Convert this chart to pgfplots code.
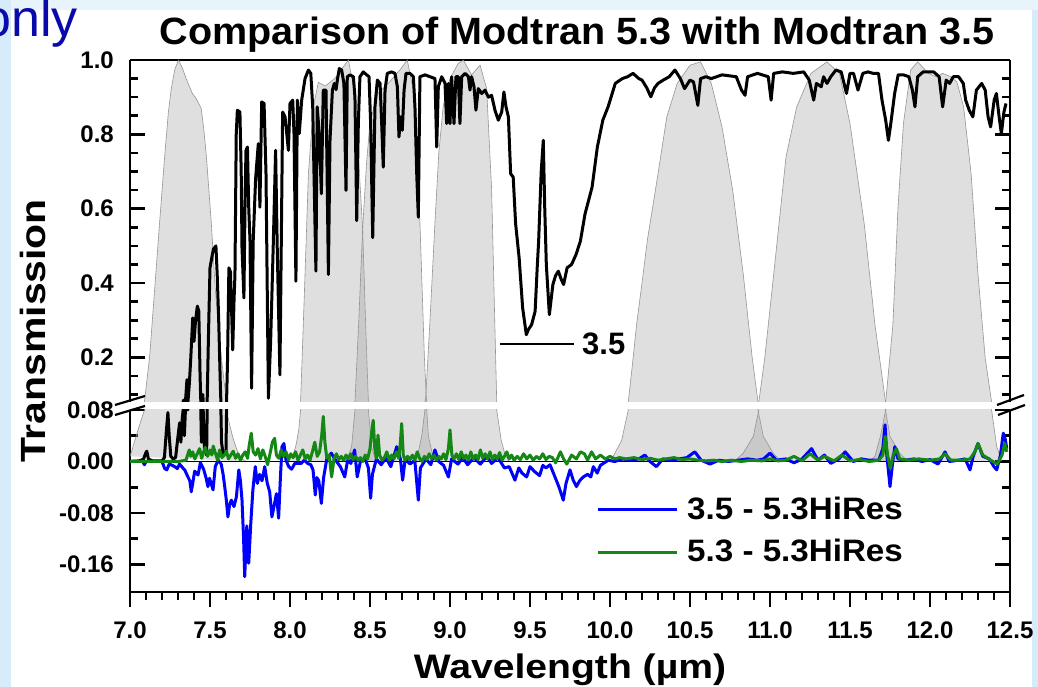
\documentclass[border=0pt]{standalone}
\usepackage{pgfplots}
\pgfplotsset{compat=1.18}
\usepackage{pgfplotstable}
\usepackage{graphicx}
\usepackage{fontspec}
\setmainfont{Liberation Sans}
\newcommand\fs[1]{\fontsize{#1}{#1}\selectfont}
\definecolor{bgblue}{RGB}{214,236,250}
\definecolor{bgtop}{RGB}{232,244,252}
\definecolor{onlyblue}{RGB}{10,10,170}
\definecolor{mygreen}{RGB}{20,135,20}

\pgfplotstableread{
x y
7.000 0.008
7.015 0.020
7.045 0.045
7.090 0.080
7.123 0.203
7.154 0.383
7.185 0.563
7.217 0.743
7.240 0.860
7.258 0.923
7.280 0.975
7.304 1.000
7.330 0.975
7.360 0.940
7.390 0.910
7.414 0.896
7.445 0.870
7.462 0.810
7.477 0.743
7.508 0.563
7.533 0.383
7.570 0.203
7.603 0.080
7.620 0.060
7.644 0.036
7.675 0.013
7.700 0.004
7.730 0.000
}\filterA
\pgfplotstableread{
x y
7.990 0.000
8.020 0.010
8.040 0.028
8.055 0.050
8.066 0.080
8.080 0.250
8.094 0.424
8.115 0.694
8.146 0.874
8.177 0.940
8.220 0.930
8.280 0.950
8.330 0.980
8.365 1.000
8.396 0.930
8.425 0.760
8.454 0.546
8.472 0.300
8.490 0.080
8.510 0.023
8.530 0.006
8.550 0.000
}\filterB
\pgfplotstableread{
x y
8.320 0.000
8.360 0.006
8.385 0.023
8.406 0.080
8.430 0.300
8.454 0.546
8.478 0.720
8.500 0.833
8.550 0.910
8.620 0.940
8.690 0.975
8.733 1.000
8.770 0.920
8.790 0.750
8.812 0.563
8.840 0.200
8.852 0.090
8.865 0.039
8.890 0.012
8.920 0.000
}\filterC
\pgfplotstableread{
x y
8.780 0.000
8.800 0.012
8.823 0.039
8.848 0.090
8.875 0.300
8.906 0.563
8.930 0.750
8.958 0.878
9.000 0.950
9.050 0.990
9.083 1.000
9.135 0.960
9.188 0.986
9.229 0.923
9.260 0.653
9.280 0.293
9.292 0.080
9.320 0.033
9.345 0.010
9.370 0.000
}\filterD
\pgfplotstableread{
x y
9.990 0.000
10.020 0.008
10.073 0.033
10.114 0.080
10.140 0.180
10.166 0.288
10.200 0.400
10.233 0.514
10.300 0.694
10.355 0.847
10.420 0.937
10.500 0.986
10.566 0.995
10.633 0.937
10.700 0.820
10.767 0.649
10.833 0.423
10.889 0.198
10.925 0.080
10.958 0.039
11.020 0.013
11.060 0.003
11.100 0.000
}\filterE
\pgfplotstableread{
x y
10.760 0.000
10.790 0.003
10.833 0.013
10.896 0.039
10.930 0.080
10.967 0.198
11.034 0.468
11.100 0.739
11.167 0.874
11.256 0.964
11.356 0.995
11.434 0.964
11.500 0.829
11.589 0.559
11.656 0.288
11.700 0.150
11.722 0.080
11.750 0.039
11.810 0.013
11.850 0.003
11.880 0.000
}\filterF
\pgfplotstableread{
x y
11.620 0.000
11.656 0.008
11.690 0.039
11.723 0.080
11.768 0.288
11.800 0.604
11.834 0.829
11.879 0.973
11.923 0.995
11.990 0.964
12.040 0.955
12.080 0.964
12.130 0.955
12.168 0.941
12.210 0.874
12.257 0.694
12.300 0.423
12.345 0.198
12.385 0.080
12.417 0.023
12.450 0.000
}\filterG

\pgfplotstableread{
x y
7.000 0.000
7.060 0.001
7.085 0.004
7.098 0.013
7.105 0.016
7.115 0.004
7.140 0.001
7.200 0.001
7.215 0.006
7.228 0.050
7.237 0.076
7.245 0.040
7.255 0.008
7.270 0.004
7.285 0.006
7.298 0.035
7.310 0.060
7.318 0.030
7.326 0.065
7.334 0.085
7.340 0.040
7.348 0.090
7.356 0.140
7.362 0.080
7.371 0.130
7.380 0.200
7.392 0.306
7.400 0.243
7.410 0.300
7.421 0.338
7.430 0.324
7.438 0.150
7.446 0.030
7.455 0.100
7.465 0.020
7.479 0.010
7.490 0.250
7.500 0.441
7.512 0.470
7.521 0.491
7.537 0.500
7.545 0.423
7.554 0.306
7.565 0.120
7.572 0.030
7.583 0.010
7.600 0.015
7.610 0.200
7.618 0.441
7.628 0.430
7.642 0.220
7.650 0.350
7.656 0.423
7.664 0.800
7.671 0.865
7.687 0.860
7.695 0.700
7.700 0.495
7.712 0.360
7.720 0.650
7.725 0.757
7.734 0.766
7.742 0.604
7.750 0.513
7.760 0.117
7.770 0.513
7.785 0.680
7.792 0.720
7.802 0.775
7.812 0.604
7.823 0.887
7.838 0.883
7.850 0.694
7.865 0.090
7.879 0.243
7.896 0.513
7.910 0.757
7.920 0.500
7.937 0.153
7.954 0.860
7.969 0.847
7.990 0.757
8.000 0.883
8.017 0.892
8.025 0.802
8.037 0.405
8.046 0.892
8.058 0.802
8.073 0.892
8.094 0.950
8.115 0.973
8.130 0.964
8.142 0.874
8.150 0.694
8.162 0.432
8.170 0.874
8.183 0.802
8.196 0.640
8.208 0.919
8.225 0.919
8.240 0.423
8.250 0.784
8.265 0.919
8.277 0.937
8.288 0.920
8.296 0.946
8.308 0.977
8.323 0.973
8.337 0.937
8.350 0.649
8.358 0.955
8.375 0.960
8.396 0.955
8.406 0.900
8.417 0.568
8.427 0.829
8.437 0.955
8.458 0.968
8.479 0.960
8.494 0.955
8.504 0.829
8.517 0.522
8.531 0.874
8.546 0.946
8.563 0.937
8.573 0.829
8.583 0.712
8.594 0.919
8.608 0.964
8.635 0.968
8.656 0.964
8.671 0.928
8.681 0.793
8.692 0.847
8.702 0.811
8.713 0.919
8.725 0.964
8.750 0.964
8.771 0.955
8.781 0.874
8.792 0.694
8.802 0.577
8.812 0.955
8.844 0.960
8.875 0.955
8.906 0.950
8.917 0.766
8.927 0.928
8.948 0.955
8.969 0.937
8.979 0.829
8.990 0.937
9.000 0.829
9.010 0.955
9.025 0.829
9.037 0.955
9.052 0.955
9.062 0.829
9.073 0.955
9.094 0.964
9.115 0.955
9.125 0.919
9.135 0.955
9.150 0.928
9.162 0.865
9.177 0.923
9.198 0.910
9.219 0.919
9.240 0.900
9.260 0.905
9.281 0.865
9.302 0.838
9.323 0.860
9.337 0.914
9.350 0.874
9.365 0.847
9.379 0.694
9.395 0.685
9.410 0.560
9.432 0.468
9.454 0.333
9.477 0.261
9.490 0.275
9.510 0.288
9.532 0.324
9.545 0.441
9.554 0.513
9.570 0.700
9.583 0.784
9.592 0.604
9.602 0.450
9.621 0.315
9.643 0.396
9.660 0.420
9.677 0.432
9.695 0.410
9.710 0.396
9.732 0.441
9.760 0.450
9.788 0.477
9.815 0.513
9.844 0.586
9.866 0.622
9.888 0.658
9.921 0.766
9.955 0.838
9.988 0.874
10.033 0.937
10.077 0.950
10.110 0.955
10.144 0.964
10.180 0.950
10.200 0.946
10.230 0.925
10.255 0.901
10.278 0.925
10.300 0.937
10.333 0.946
10.370 0.955
10.406 0.973
10.440 0.950
10.466 0.923
10.500 0.946
10.522 0.941
10.549 0.878
10.566 0.950
10.600 0.955
10.633 0.950
10.700 0.960
10.789 0.955
10.822 0.919
10.844 0.905
10.860 0.955
10.922 0.964
10.989 0.955
11.007 0.892
11.023 0.964
11.078 0.968
11.145 0.964
11.211 0.968
11.245 0.946
11.273 0.892
11.290 0.937
11.320 0.928
11.335 0.955
11.356 0.937
11.380 0.955
11.412 0.973
11.445 0.968
11.478 0.910
11.500 0.964
11.522 0.964
11.550 0.919
11.580 0.964
11.612 0.968
11.645 0.964
11.678 0.964
11.700 0.892
11.723 0.838
11.740 0.784
11.755 0.829
11.779 0.910
11.801 0.960
11.834 0.960
11.868 0.955
11.890 0.919
11.906 0.874
11.923 0.955
11.957 0.968
12.023 0.968
12.057 0.955
12.079 0.874
12.101 0.946
12.123 0.937
12.145 0.955
12.179 0.955
12.208 0.937
12.223 0.892
12.245 0.865
12.268 0.847
12.290 0.919
12.323 0.937
12.345 0.919
12.363 0.847
12.379 0.820
12.401 0.892
12.415 0.910
12.432 0.847
12.446 0.802
12.462 0.860
12.475 0.883
}\blackdata

\pgfplotstableread{
x y
7.000 0.000
7.080 0.000
7.090 -0.005
7.100 0.000
7.200 0.000
7.217 -0.011
7.230 -0.013
7.245 -0.004
7.265 -0.006
7.279 -0.008
7.296 -0.011
7.310 -0.004
7.330 -0.010
7.342 -0.013
7.362 -0.024
7.374 -0.030
7.383 -0.047
7.392 -0.034
7.404 -0.015
7.415 -0.018
7.425 -0.021
7.440 -0.002
7.460 -0.012
7.475 -0.025
7.487 -0.039
7.497 -0.026
7.508 -0.035
7.519 -0.044
7.533 -0.008
7.550 0.002
7.570 -0.004
7.582 -0.020
7.592 -0.039
7.602 -0.060
7.612 -0.086
7.622 -0.068
7.633 -0.060
7.650 -0.070
7.665 -0.055
7.680 -0.013
7.690 -0.030
7.700 -0.060
7.710 -0.120
7.717 -0.179
7.725 -0.130
7.730 -0.100
7.742 -0.158
7.750 -0.120
7.754 -0.100
7.768 -0.044
7.783 -0.008
7.796 -0.034
7.810 -0.020
7.825 -0.030
7.842 -0.008
7.858 -0.034
7.873 -0.047
7.887 -0.086
7.900 -0.070
7.915 -0.050
7.929 -0.088
7.940 -0.025
7.950 0.023
7.962 0.028
7.975 0.002
7.992 -0.008
8.010 -0.012
8.030 -0.003
8.050 -0.003
8.070 -0.003
8.090 0.002
8.110 -0.003
8.130 -0.005
8.144 -0.013
8.158 -0.052
8.168 -0.025
8.180 -0.030
8.196 -0.065
8.210 -0.025
8.230 0.004
8.258 0.013
8.285 0.002
8.315 -0.008
8.342 -0.024
8.360 0.002
8.380 -0.003
8.404 0.018
8.420 -0.024
8.440 0.000
8.470 0.004
8.490 -0.010
8.504 -0.057
8.515 -0.020
8.540 0.004
8.570 -0.005
8.600 0.006
8.630 -0.008
8.667 0.023
8.690 0.004
8.704 -0.029
8.720 0.004
8.750 -0.004
8.780 0.002
8.802 -0.060
8.815 -0.010
8.850 0.004
8.880 -0.005
8.906 0.018
8.930 0.000
8.960 -0.006
8.990 -0.024
9.010 0.004
9.050 -0.004
9.080 0.006
9.110 -0.005
9.150 0.006
9.190 -0.004
9.230 0.008
9.260 -0.003
9.300 0.006
9.340 -0.010
9.370 -0.008
9.406 -0.029
9.430 -0.010
9.450 -0.018
9.479 -0.024
9.500 -0.008
9.530 -0.016
9.560 -0.022
9.580 -0.006
9.600 -0.010
9.625 -0.005
9.656 -0.024
9.680 -0.039
9.708 -0.060
9.725 -0.034
9.750 -0.013
9.770 -0.029
9.790 -0.039
9.810 -0.030
9.833 -0.024
9.860 -0.020
9.880 -0.024
9.896 -0.008
9.920 -0.018
9.940 -0.006
9.958 -0.003
9.990 0.002
10.030 0.000
10.080 0.004
10.130 0.002
10.180 0.004
10.218 0.010
10.250 0.000
10.290 -0.008
10.330 0.004
10.380 0.002
10.430 0.004
10.480 0.006
10.530 0.015
10.570 0.002
10.625 -0.004
10.680 0.002
10.740 0.000
10.800 0.002
10.860 0.004
10.920 0.002
10.960 0.004
11.000 0.013
11.040 0.002
11.100 0.004
11.150 -0.002
11.200 0.004
11.260 0.020
11.300 0.002
11.340 0.010
11.380 -0.003
11.430 0.004
11.470 0.015
11.520 0.000
11.570 0.004
11.620 0.002
11.680 0.002
11.705 0.020
11.719 0.057
11.730 0.010
11.750 -0.039
11.765 -0.005
11.780 0.023
11.800 0.004
11.850 0.002
11.900 0.004
11.950 0.000
12.000 0.003
12.050 -0.004
12.094 0.015
12.120 0.000
12.180 0.002
12.220 0.004
12.250 -0.013
12.270 0.008
12.300 0.028
12.330 0.008
12.370 0.004
12.400 -0.008
12.417 -0.013
12.440 0.010
12.458 0.044
12.470 0.035
12.480 0.020
}\bluedata

\pgfplotstableread{
x y
7.000 0.000
7.300 0.000
7.350 0.002
7.370 0.018
7.380 0.008
7.392 0.015
7.405 0.004
7.420 0.012
7.435 0.020
7.448 0.005
7.460 0.015
7.470 0.022
7.485 0.008
7.500 0.018
7.512 0.010
7.520 0.024
7.535 0.012
7.548 0.002
7.560 0.018
7.575 0.006
7.590 0.010
7.603 0.016
7.615 0.004
7.630 0.010
7.645 0.016
7.660 0.005
7.675 0.012
7.690 0.002
7.705 0.010
7.720 0.015
7.735 0.005
7.745 0.025
7.758 0.044
7.770 0.015
7.785 0.010
7.800 0.020
7.815 0.004
7.830 0.018
7.845 0.008
7.860 -0.005
7.875 0.012
7.890 0.030
7.904 0.036
7.915 0.010
7.930 0.005
7.945 0.018
7.960 0.008
7.975 0.015
7.990 0.003
8.005 0.012
8.020 0.006
8.035 0.015
8.050 0.002
8.065 0.010
8.080 0.018
8.095 0.004
8.110 0.010
8.125 0.002
8.140 0.015
8.155 0.030
8.170 0.008
8.185 0.015
8.198 0.040
8.208 0.070
8.218 0.030
8.230 0.005
8.245 0.010
8.260 -0.024
8.275 0.004
8.290 0.012
8.305 0.003
8.320 0.008
8.335 0.002
8.350 0.010
8.365 0.004
8.380 0.012
8.395 0.003
8.410 0.008
8.425 0.002
8.440 0.006
8.455 0.000
8.470 0.010
8.485 0.004
8.500 0.020
8.512 0.050
8.520 0.064
8.530 0.020
8.540 0.005
8.550 0.041
8.560 0.010
8.575 0.002
8.590 0.006
8.605 0.015
8.620 0.002
8.635 0.010
8.650 0.004
8.665 0.015
8.680 0.005
8.690 0.030
8.698 0.059
8.708 0.010
8.720 0.002
8.735 0.008
8.750 0.003
8.765 0.010
8.780 0.002
8.795 0.015
8.810 0.005
8.825 0.000
8.840 0.008
8.855 0.003
8.870 0.012
8.885 0.004
8.900 0.010
8.915 0.002
8.930 0.008
8.945 0.004
8.960 0.012
8.975 0.003
8.990 0.020
9.000 0.049
9.012 0.010
9.025 0.004
9.040 0.012
9.055 0.003
9.070 0.015
9.085 0.005
9.100 0.010
9.115 0.002
9.130 0.015
9.145 0.004
9.160 0.010
9.175 0.003
9.190 0.018
9.205 0.005
9.220 0.012
9.235 0.004
9.250 0.015
9.265 0.003
9.280 0.010
9.295 0.004
9.310 0.014
9.325 0.002
9.340 0.008
9.355 0.015
9.370 0.004
9.385 0.010
9.400 0.002
9.420 0.008
9.440 0.003
9.460 0.012
9.480 0.004
9.500 0.010
9.520 0.002
9.540 0.008
9.560 0.004
9.580 0.012
9.600 0.003
9.620 0.008
9.640 0.006
9.660 -0.002
9.690 0.015
9.710 0.004
9.730 -0.004
9.760 0.010
9.790 0.004
9.815 0.015
9.840 0.012
9.860 0.002
9.885 0.015
9.910 0.004
9.940 0.010
9.970 0.004
10.000 0.008
10.030 0.004
10.060 0.006
10.100 0.004
10.150 0.006
10.200 0.003
10.250 0.005
10.300 0.002
10.350 0.004
10.400 0.006
10.450 0.003
10.500 0.004
10.550 0.002
10.600 0.001
10.650 0.002
10.700 0.000
10.760 0.002
10.820 0.000
10.880 0.002
10.950 0.001
11.000 0.004
11.050 0.001
11.100 0.002
11.150 0.008
11.200 0.001
11.250 0.012
11.300 0.002
11.340 0.008
11.400 0.001
11.450 0.010
11.500 0.001
11.560 0.003
11.620 0.000
11.680 0.002
11.705 0.010
11.720 0.039
11.735 0.010
11.752 -0.011
11.770 0.010
11.790 0.020
11.810 0.004
11.870 0.002
11.930 0.004
12.000 0.002
12.060 0.004
12.094 0.012
12.130 0.002
12.200 0.002
12.250 0.004
12.280 0.015
12.300 0.028
12.330 0.010
12.380 0.002
12.420 -0.004
12.450 0.010
12.467 0.028
12.480 0.015
}\greendata

\pgfplotsset{
  filt/.style={fill=black!38, fill opacity=0.33, draw=black!45, draw opacity=0.9, line width=0.6pt},
  base/.style={
    scale only axis, width=880pt, xmin=7, xmax=12.5,
    enlargelimits=false,
    every non boxed x axis/.style={}, every non boxed y axis/.style={},
    axis line style={line width=2.8pt, -},
    every tick/.style={black, line width=2.6pt},
    major tick length=15pt, minor tick length=8pt,
    tick label style={font=\bfseries\fs{24}},
    ytick align=inside,
    yticklabel style={anchor=east, inner sep=0pt, xshift=-16pt},
  }
}

\begin{document}
\begin{tikzpicture}[x=1pt,y=1pt]
\useasboundingbox (0,0) rectangle (1038,687);
\clip (0,0) rectangle (1038,687);
\fill[bgblue] (0,0) rectangle (1038,687);
\fill[bgtop] (11,677) rectangle (1038,687);
\fill[white] (11,0) rectangle (1032,677);

% upper panel
\begin{axis}[base, at={(130pt,285pt)}, anchor=south west, height=342pt,
  ymin=0.08, ymax=1.0,
  axis x line*=top, axis y line*=box, xtick=\empty, minor xtick={},
  ytick={0.2,0.4,0.6,0.8,1.0}, yticklabels={0.2,0.4,0.6,0.8,1.0},
  minor ytick={0.1,0.15,0.25,0.3,0.35,0.45,0.5,0.55,0.65,0.7,0.75,0.85,0.9,0.95},
]
\addplot[filt] table {\filterA};
\addplot[filt] table {\filterB};
\addplot[filt] table {\filterC};
\addplot[filt] table {\filterD};
\addplot[filt] table {\filterE};
\addplot[filt] table {\filterF};
\addplot[filt] table {\filterG};
\addplot[black, line width=3pt, line join=round] table {\blackdata};
\end{axis}

% lower panel
\begin{axis}[base, at={(130pt,95pt)}, anchor=south west, height=182pt,
  ymin=-0.2027, ymax=0.08,
  axis x line*=bottom, axis y line*=box,
  xtick pos=left, xtick align=outside,
  xtick={7,7.5,8,8.5,9,9.5,10,10.5,11,11.5,12,12.5},
  xticklabels={7.0,7.5,8.0,8.5,9.0,9.5,10.0,10.5,11.0,11.5,12.0,12.5},
  minor x tick num=4,
  ytick={-0.16,-0.08,0,0.08}, yticklabels={-0.16,-0.08,0.00,0.08},
  minor ytick={-0.12,-0.04,0.04},
  xticklabel style={anchor=north, inner sep=0pt, yshift=-15pt},
]
\addplot[filt] table {\filterA};
\addplot[filt] table {\filterB};
\addplot[filt] table {\filterC};
\addplot[filt] table {\filterD};
\addplot[filt] table {\filterE};
\addplot[filt] table {\filterF};
\addplot[filt] table {\filterG};
\addplot[black, line width=3pt, line join=round] table {\blackdata};
\addplot[black, line width=1.8pt] coordinates {(7,0) (12.5,0)};
\addplot[blue, line width=3pt, line join=round] table {\bluedata};
\addplot[mygreen, line width=3pt, line join=round] table {\greendata};
\end{axis}

% axis breaks
\draw[line width=2.2pt] (115,282) -- (145,291);
\draw[line width=2.2pt] (115,272) -- (145,281);
\draw[line width=2.2pt] (997,282) -- (1024,292);
\draw[line width=2.2pt] (998,272) -- (1025,282);

% annotation
\draw[line width=2.4pt] (500,343) -- (574,343);
\node[anchor=base west, inner sep=0pt, font=\bfseries\fs{31}] at (582,332) {3.5};

% legend
\draw[blue, line width=3pt] (598,177) -- (677,177);
\draw[mygreen, line width=3pt] (598,134) -- (677,134);
\node[anchor=base west, inner sep=0pt, font=\bfseries\fs{31}] at (687,167) {\scalebox{1.07}[1]{3.5 - 5.3HiRes}};
\node[anchor=base west, inner sep=0pt, font=\bfseries\fs{31}] at (687,125) {\scalebox{1.07}[1]{5.3 - 5.3HiRes}};

% titles and labels
\node[anchor=base, inner sep=0pt, font=\bfseries\fs{38}] at (577,642) {\scalebox{1.04}[1]{Comparison of Modtran 5.3 with Modtran 3.5}};
\node[rotate=90, anchor=center, inner sep=0pt, font=\bfseries\fs{35}] at (33,356) {\scalebox{1.17}[1]{Transmission}};
\node[anchor=base, inner sep=0pt, font=\bfseries\fs{34}] at (570,8) {\scalebox{1.15}[1]{Wavelength (µm)}};

\node[anchor=base west, inner sep=0pt, text=onlyblue, font=\fs{52}] at (-18,650) {only};
\end{tikzpicture}
\end{document}
